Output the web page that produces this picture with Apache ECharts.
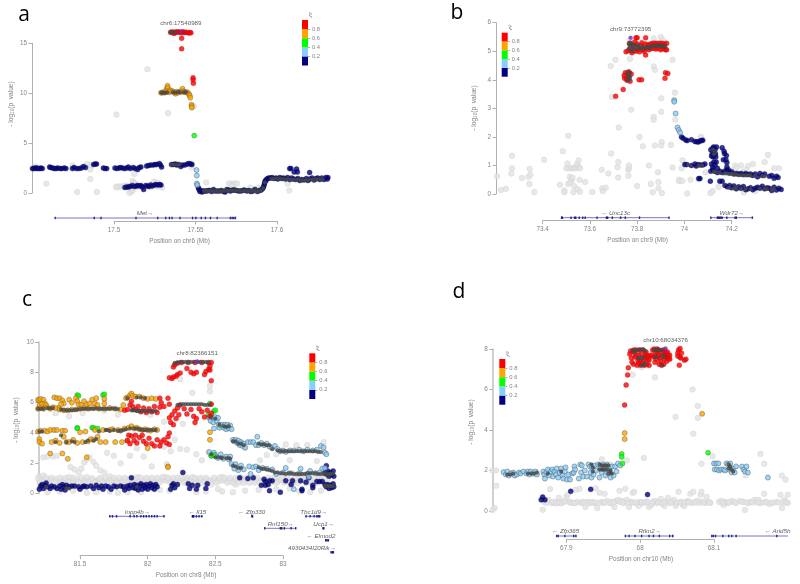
<!DOCTYPE html>
<html><head><meta charset="utf-8">
<style>html,body{margin:0;padding:0;background:#fff}#c{width:800px;height:584px;filter:blur(.5px)}</style>
<script src="https://cdn.jsdelivr.net/npm/echarts@6/dist/echarts.min.js"></script>
</head><body><div id="c"></div>
<script>
// ---------- panel a values ----------
const aGray=[[17.5205,12.4],[17.5015,7.85],[17.5332,8],[17.549,8.7],[17.4585,.95],[17.4775,.1],[17.4855,1.4],[17.4855,2.35],[17.4855,2.8],[17.4745,2.75],[17.452,2.65],[17.4895,.1],[17.5015,.65],[17.503,.65],[17.5045,.65],[17.506,.65],[17.507,.75],[17.5085,.7],[17.5095,0],[17.5108,.15],[17.5115,.3],[17.5115,1.1],[17.5115,1.2],[17.5125,1],[17.5125,1.9],[17.5135,.9],[17.514,.6],[17.5225,.6],[17.5245,1.15],[17.5225,.85],[17.5265,.65],[17.528,.7],[17.5295,.55],[17.5265,1.05],[17.5565,1.05],[17.5705,.95],[17.572,.95],[17.573,.8],[17.574,.95],[17.5755,.95],[17.5725,.7],[17.5885,.55],[17.5835,.55],[17.586,.4],[17.6065,.95],[17.6075,.25],[17.5512,.75],[17.5475,2.55],[17.5388,2.9],[17.5475,2.95],[17.5015,.55],[17.5125,.7],[17.5105,.5],[17.4835,2.9]];
const aNavy=[[17.45,2.45],[17.4508,2.45],[17.4515,2.5],[17.4522,2.45],[17.4528,2.5],[17.4535,2.45],[17.4545,2.45],[17.4552,2.5],[17.456,2.45],[17.4605,2.6],[17.4612,2.55],[17.4625,2.5],[17.4635,2.45],[17.4645,2.45],[17.4655,2.5],[17.467,2.45],[17.468,2.45],[17.4695,2.5],[17.4705,2.45],[17.4745,2.45],[17.4755,2.55],[17.477,2.45],[17.4785,2.45],[17.48,2.5],[17.4812,2.65],[17.4825,2.55],[17.4875,2.85],[17.4884,2.9],[17.4893,2.9],[17.4935,2.5],[17.4945,2.45],[17.4955,2.45],[17.5006,2.5],[17.5018,2.45],[17.503,2.5],[17.504,2.55],[17.5052,2.5],[17.5065,2.45],[17.5078,2.5],[17.5088,2.6],[17.51,2.45],[17.5118,2.55],[17.513,2.45],[17.5145,2.35],[17.5155,2.55],[17.5165,2.6],[17.52,2.7],[17.5212,2.75],[17.5225,2.8],[17.524,2.8],[17.5252,2.85],[17.5261,2.85],[17.5278,2.95],[17.5285,2.8],[17.5292,2.6],[17.5353,2.85],[17.5365,2.85],[17.5375,2.9],[17.5385,2.8],[17.5398,2.85],[17.541,2.65],[17.542,2.8],[17.5435,2.8],[17.545,2.9],[17.546,2.95],[17.547,2.9],[17.5478,2.85],[17.5067,.55],[17.5078,.6],[17.5088,.6],[17.5098,.65],[17.5112,.75],[17.5125,.65],[17.5138,.7],[17.5145,.75],[17.5158,.7],[17.5165,.75],[17.5175,.6],[17.5182,.35],[17.5195,.75],[17.5205,.7],[17.5215,.65],[17.5225,.8],[17.5235,.7],[17.5248,.8],[17.5258,.85],[17.5268,.8],[17.528,.85],[17.5288,.8],[17.5518,.5],[17.5522,.35],[17.5527,.15],[17.5533,.25],[17.554,.1],[17.5548,.2],[17.5558,.2],[17.5568,.2],[17.5578,.25],[17.5588,.25],[17.56,.15],[17.561,.35],[17.5622,.2],[17.5635,.2],[17.5648,.2],[17.566,.25],[17.5672,.15],[17.5682,.1],[17.5692,.35],[17.5704,.3],[17.5715,.2],[17.5728,.3],[17.574,.3],[17.5752,.25],[17.5765,.2],[17.5778,.2],[17.579,.25],[17.58,.3],[17.5815,.2],[17.5828,.25],[17.584,.15],[17.5852,.2],[17.5865,.35],[17.588,.15],[17.5892,.25],[17.5903,.3],[17.5912,.45],[17.5917,.6],[17.5921,.8],[17.5924,1],[17.5927,1.15],[17.593,1.25],[17.5935,1.35],[17.5942,1.45],[17.595,1.5],[17.596,1.5],[17.597,1.55],[17.5982,1.45],[17.5995,1.5],[17.6005,1.4],[17.6018,1.55],[17.603,1.45],[17.604,1.5],[17.6052,1.4],[17.6065,1.55],[17.6078,1.35],[17.609,1.5],[17.6102,1.4],[17.6115,1.35],[17.6128,1.45],[17.614,1.25],[17.6152,1.35],[17.6165,1.3],[17.618,1.45],[17.619,1.25],[17.6202,1.4],[17.6215,1.5],[17.6228,1.3],[17.624,1.45],[17.625,1.5],[17.6262,1.35],[17.6275,1.5],[17.6288,1.35],[17.63,1.55],[17.6308,1.4],[17.6312,1.55],[17.6078,2.45],[17.6085,2.45],[17.6105,2.1],[17.612,2.4],[17.6125,2.1],[17.62,2.05]];
const aBlue=[[17.5506,2.3],[17.5508,1.75],[17.5508,.95],[17.5511,.8]];
const aGreen=[[17.5492,5.75]];
const aOrange=[[17.5288,10.05],[17.5295,10.05],[17.53,10.1],[17.5308,10.05],[17.5315,10.1],[17.532,10.3],[17.5325,10.5],[17.5328,10.75],[17.533,10.55],[17.5336,10.25],[17.534,10.1],[17.5345,10.3],[17.535,10.2],[17.5358,10.2],[17.5365,10.15],[17.537,10.05],[17.5378,9.95],[17.5385,10.15],[17.5392,10.05],[17.54,10.15],[17.5408,10.1],[17.5415,10.2],[17.542,10.45],[17.5426,10.2],[17.5432,10.1],[17.544,10.1],[17.5448,10.1],[17.5455,10],[17.546,9.9],[17.5465,9.75],[17.5468,9.55],[17.5475,8.85],[17.5477,8.7],[17.5477,8.55]];
const aRed=[[17.5347,16.1],[17.5355,16.12],[17.5362,16.1],[17.5368,15.98],[17.5375,16.12],[17.5382,16.1],[17.539,16.15],[17.5398,16.1],[17.5404,16.12],[17.5415,16.05],[17.5422,16.15],[17.543,16.1],[17.5438,16.08],[17.5445,16.1],[17.5458,16.02],[17.5465,16.08],[17.5472,16.05],[17.5415,15.5],[17.5415,14.45],[17.5485,11.55],[17.5485,11.35],[17.5487,11]];
const aDense=[[17.5347,16.1],[17.5358,16.1],[17.5372,16.1],[17.529,10.05],[17.5302,10.05],[17.5314,10.05],[17.5326,10.05],[17.5362,10.1],[17.5376,10.05],[17.5392,10.1],[17.5404,10.1],[17.5428,10.1],[17.5442,10.1],[17.5356,2.85],[17.537,2.85],[17.5388,2.85],[17.5402,2.85],[17.5552,.2],[17.5564,.2],[17.5578,.2],[17.5592,.2],[17.5606,.2],[17.562,.2],[17.5634,.2],[17.5648,.2],[17.5662,.2],[17.5676,.2],[17.569,.25],[17.5704,.25],[17.5718,.25],[17.5732,.25],[17.5746,.25],[17.576,.25],[17.5774,.2],[17.5788,.2],[17.5802,.25],[17.5816,.2],[17.583,.2],[17.5844,.2],[17.5858,.2],[17.5872,.2],[17.5886,.2],[17.59,.25],[17.5914,.5],[17.5926,1.05],[17.5965,1.45],[17.598,1.45],[17.5995,1.45],[17.601,1.45],[17.6025,1.45],[17.604,1.4],[17.6055,1.4],[17.607,1.4],[17.6085,1.35],[17.61,1.35],[17.6115,1.35],[17.613,1.35],[17.6145,1.3],[17.616,1.3],[17.6175,1.3],[17.619,1.3],[17.6205,1.35],[17.622,1.35],[17.6235,1.4],[17.625,1.4],[17.6265,1.4],[17.628,1.4]];
const aLead=[[17.540989,16.15]];
// ---------- panel b values ----------
const bGray=[[73.207,.62],[73.223,.14],[73.244,.18],[73.27,1.34],[73.27,.9],[73.267,.72],[73.312,.56],[73.34,.6],[73.348,.68],[73.345,.88],[73.344,.35],[73.365,.07],[73.406,1.2],[73.473,.32],[73.485,1.5],[73.492,.12],[73.492,.06],[73.5,.9],[73.505,1.07],[73.508,2.04],[73.508,.35],[73.512,.9],[73.515,.6],[73.517,.42],[73.52,.9],[73.524,.5],[73.526,.58],[73.53,.9],[73.53,.06],[73.533,.28],[73.538,.94],[73.54,.9],[73.546,1.05],[73.548,.17],[73.552,1.18],[73.552,.95],[73.556,.5],[73.558,.9],[73.558,.08],[73.58,.42],[73.61,.07],[73.65,.85],[73.652,.2],[73.655,.1],[73.667,.22],[73.678,.72],[73.69,1.42],[73.688,4.48],[73.694,3.4],[73.708,4.7],[73.717,.94],[73.72,1.12],[73.72,.58],[73.722,2.33],[73.763,.64],[73.763,.85],[73.765,.9],[73.765,1.0],[73.77,5.4],[73.77,4.73],[73.775,2.95],[73.8,.28],[73.81,2.0],[73.824,1.67],[73.85,1.0],[73.858,.35],[73.866,.06],[73.87,4.47],[73.87,5.45],[73.87,2.7],[73.87,2.6],[73.875,4.35],[73.875,1.7],[73.89,.2],[73.89,.42],[73.888,.76],[73.9,5.5],[73.902,3.35],[73.904,1.82],[73.902,1.7],[73.905,.03],[73.902,2.88],[73.908,5.4],[73.95,4.7],[73.943,1.72],[73.95,.93],[73.96,3.55],[73.962,2.6],[73.978,.5],[73.978,.45],[73.992,.46],[73.992,1.18],[73.988,.9],[74.012,.02],[74.026,.5],[74.06,.52],[74.07,1.95],[74.07,2],[74.09,.76],[74.11,.03],[74.12,.1],[74.145,.25],[74.215,1],[74.24,1],[74.252,.06],[74.25,.78],[74.27,.98],[74.29,1.05],[74.3,.1],[74.34,1.12],[74.38,.9],[74.354,1.37],[74.4,.9],[74.2,.82],[74.22,.9],[74.262,.85]];
const bNavy=[[73.988,2],[73.995,1.95],[74.006,1.89],[74.012,1.87],[74.03,1.9],[74.045,1.84],[74.052,1.83],[74.059,1.82],[74.066,1.86],[74.073,1.87],[74.078,1.88],[74.002,1.03],[74.01,1.03],[74.03,1],[74.045,1.05],[74.05,.98],[74.058,1.03],[74.068,1.02],[74.078,1.02],[74.087,1.05],[74.061,.54],[74.066,.54],[74.112,1.55],[74.12,1.6],[74.124,1.65],[74.13,1.55],[74.136,1.65],[74.118,1.42],[74.125,1.5],[74.132,1.4],[74.115,1.33],[74.122,1.3],[74.133,1.3],[74.16,1.62],[74.168,1.5],[74.17,1.42],[74.178,1.35],[74.176,1.2],[74.18,1.1],[74.115,1.05],[74.125,1.12],[74.135,1.12],[74.13,1.02],[74.12,.95],[74.165,1.2],[74.14,.9],[74.18,.95],[74.186,.85],[74.11,.45],[74.15,.45],[74.16,.45],[74.112,.8],[74.12,.85],[74.13,.8],[74.14,.75],[74.15,.8],[74.16,.75],[74.17,.8],[74.18,.85],[74.19,.75],[74.2,.78],[74.21,.7],[74.22,.72],[74.23,.7],[74.24,.72],[74.25,.68],[74.26,.72],[74.27,.68],[74.28,.7],[74.29,.65],[74.3,.7],[74.31,.6],[74.32,.72],[74.33,.65],[74.34,.7],[74.36,.62],[74.37,.65],[74.38,.55],[74.39,.62],[74.397,.58],[74.172,.3],[74.182,.25],[74.192,.3],[74.2,.22],[74.21,.28],[74.22,.18],[74.23,.25],[74.24,.2],[74.25,.26],[74.26,.15],[74.27,.18],[74.28,.22],[74.29,.15],[74.3,.2],[74.31,.24],[74.32,.2],[74.33,.27],[74.34,.18],[74.35,.22],[74.36,.2],[74.37,.12],[74.38,.24],[74.39,.14],[74.4,.2],[74.41,.16]];
const bBlue=[[73.957,3.29],[73.957,3.23],[73.963,2.82],[73.971,2.33],[73.976,2.24],[73.982,2.15]];
const bRed=[[73.709,3.42],[73.741,3.66],[73.753,4.98],[73.808,4],[73.819,4],[73.836,4.87],[73.836,5.47],[73.795,5.47],[73.8,5.47],[73.918,4.05],[73.92,4.25],[73.93,4.22],[73.745,4.15],[73.75,4.25],[73.755,4.05],[73.76,4.25],[73.765,4.1],[73.77,3.95],[73.775,4.2],[73.747,4.05],[73.765,4.28],[73.757,3.98],[73.762,5.02],[73.768,5.28],[73.772,5.1],[73.778,4.95],[73.782,5.2],[73.786,5.02],[73.79,5.32],[73.795,5],[73.8,5.25],[73.805,5.05],[73.81,4.98],[73.815,5.2],[73.82,5.3],[73.825,5.05],[73.83,5],[73.835,5.25],[73.84,5.1],[73.845,5.22],[73.85,5.05],[73.855,5.25],[73.86,5.1],[73.865,5.28],[73.87,5.1],[73.875,5.28],[73.88,5.08],[73.885,5.28],[73.89,5.1],[73.895,5.28],[73.9,5.05],[73.905,5.28],[73.91,5.1],[73.915,5.25],[73.92,5.05],[73.925,5.28],[73.925,5.05]];
const bDense=[[73.765,5.1],[73.77,5.2],[73.775,5],[73.78,5.25],[73.765,5.25],[73.772,5.3],[73.78,5.1],[73.785,5.2],[73.79,5.1],[73.795,5.2],[73.8,5.1],[73.805,5.2],[73.81,5.12],[73.815,5.08],[73.82,5.12],[73.825,5.15],[73.83,5.12],[73.84,5.15],[73.845,5.12],[73.85,5.15],[73.855,5.12],[73.86,5.18],[73.87,5.2],[73.875,5.18],[73.88,5.2],[73.885,5.18],[73.89,5.2],[73.895,5.18],[73.9,5.2],[73.905,5.18],[73.91,5.2],[73.915,5.15],[73.92,5.18],[73.76,4.25],[73.765,4.2],[73.77,4.25],[73.76,4.1],[73.77,4.1],[73.76,3.98],[73.768,4.02],[74.015,1.03],[74.06,1],[74.075,1],[74.12,1.55],[74.125,1.4],[74.13,1.5],[74.125,.78],[74.135,.78],[74.15,.75],[74.17,.72],[74.18,.72],[74.19,.7],[74.2,.7],[74.21,.7],[74.22,.68],[74.23,.66],[74.24,.66],[74.25,.66],[74.26,.65],[74.27,.66],[74.28,.65],[74.3,.65],[74.33,.63],[74.34,.62],[74.19,.22],[74.21,.2],[74.22,.22],[74.24,.2],[74.26,.18],[74.28,.18],[74.32,.2],[74.34,.2],[74.35,.18],[74.37,.16],[74.38,.16]];
const bLead=[[73.772395,5.47]];
// ---------- panel c values ----------
const cGray=[[81.2,1.15],[81.22,.95],[81.24,.85],[81.26,.95],[81.28,.85],[81.3,.9],[81.32,.95],[81.34,.8],[81.36,.9],[81.38,.85],[81.4,.95],[81.42,.8],[81.44,.95],[81.46,.85],[81.48,.95],[81.5,.8],[81.52,.9],[81.54,.85],[81.56,.95],[81.58,.85],[81.6,.9],[81.62,.8],[81.64,.95],[81.66,.85],[81.68,.9],[81.7,.85],[81.72,.95],[81.74,.85],[81.76,.9],[81.78,.8],[81.8,.9],[81.82,.85],[81.84,.95],[81.86,.85],[81.88,.9],[81.9,.95],[81.92,.85],[81.94,.9],[81.96,.8],[81.98,.9],[82,.85],[82.02,.95],[82.04,.85],[82.06,.9],[82.08,.85],[82.1,.95],[82.12,.9],[82.14,.85],[82.16,.95],[82.18,.85],[82.2,.9],[82.22,.8],[82.24,.9],[82.26,.85],[82.28,.95],[82.3,.85],[82.32,.9],[82.34,.8],[82.36,.95],[82.38,.85],[82.4,.9],[82.42,.85],[82.44,.95],[82.46,.85],[82.48,.9],[82.5,.8],[82.52,.95],[82.54,.85],[82.56,.9],[82.58,.85],[82.6,.95],[82.62,.8],[82.64,.9],[82.66,.85],[82.68,.9],[82.7,.95],[82.72,.85],[82.74,.9],[82.76,.8],[82.78,.95],[82.8,.85],[82.82,.9],[82.84,.8],[82.86,.95],[82.88,.85],[82.9,.9],[82.92,.85],[82.94,.95],[82.96,.8],[82.98,.9],[83,.85],[83.02,.95],[83.04,.85],[83.06,.9],[83.08,.8],[83.1,.95],[83.12,.85],[83.14,.9],[83.16,.85],[83.18,.95],[83.2,.8],[83.22,.9],[83.24,.85],[83.26,.95],[81.2,.75],[81.23,1.2],[81.27,.7],[81.33,.65],[81.42,1.1],[81.47,.65],[81.55,1.1],[81.63,.65],[81.72,1.15],[81.8,.7],[81.93,1.1],[82.05,.7],[82.13,1.1],[82.22,1.05],[82.33,1.1],[82.47,.6],[82.55,1.1],[82.65,.6],[82.77,1.1],[82.85,.65],[82.97,1.1],[83.07,.6],[83.15,1.15],[83.22,.65],[81.2,.35],[81.26,.1],[81.35,.15],[81.45,.2],[81.55,.05],[81.62,.1],[81.72,.15],[81.78,.05],[81.85,.1],[81.95,.1],[82.09,.25],[82.16,.2],[82.36,.1],[82.43,.15],[82.52,.3],[82.55,.15],[82.63,.1],[82.72,.2],[82.82,.25],[82.95,.3],[83.05,.35],[83.12,.15],[83.2,.1],[83.28,.2],[81.3,2.45],[81.23,2.4],[81.26,2.45],[81.33,2.5],[81.43,1.75],[81.46,1.6],[81.49,1.4],[81.51,1.65],[81.53,2.05],[81.55,2.25],[81.57,2.4],[81.6,2.1],[81.62,1.85],[81.65,1.55],[81.68,1.4],[81.7,2.7],[81.75,2.5],[81.8,2],[81.87,2.5],[81.97,2.45],[82.03,1.8],[82.09,3.2],[82.14,1.95],[82.17,2.8],[82.24,2.95],[82.29,2.9],[82.36,2.6],[82.4,2.2],[82.45,2.7],[82.24,7.55],[82.33,6.65],[82.46,6.75],[82.46,7.1],[82.12,4.75],[82.2,3.55],[82.26,4.6],[82.72,3],[82.88,2.55],[83.02,3.25],[83.1,3.2],[83.3,3.4],[83.18,3.2],[82.83,2.2],[82.95,2.6],[83.07,1.35],[83.05,2.2],[83.25,2.15],[81.3,4.2],[81.32,5.3],[81.42,5.1],[81.52,5.3],[81.68,5.45],[81.78,5.2],[81.92,3],[82.02,5.2],[82.12,3.1]];
const cGrayBand=[[81.19,1],[81.21,.8],[81.25,1.05],[81.29,1.05],[81.31,.75],[81.35,1.05],[81.37,.75],[81.39,1.05],[81.41,.75],[81.45,1.05],[81.49,.75],[81.51,1.05],[81.53,.72],[81.57,.75],[81.59,1.02],[81.61,.75],[81.65,1.05],[81.67,.75],[81.69,1.05],[81.71,.72],[81.75,1.05],[81.77,.72],[81.79,1.05],[81.83,1.05],[81.85,.72],[81.87,1],[81.89,.72],[81.91,1.05],[81.95,1.05],[81.97,.72],[81.99,1.05],[82.01,.72],[82.03,1.05],[82.07,1.05],[82.09,.72],[82.11,1.1],[82.15,1.05],[82.17,.72],[82.19,1.05],[82.21,.72],[82.25,1.05],[82.27,.72],[82.29,1.05],[82.31,.75],[82.35,1.05],[82.37,.72],[82.39,1.05],[82.41,.72],[82.43,1.05],[82.45,.72],[82.49,1.05],[82.51,.72],[82.53,1.05],[82.57,1.05],[82.59,.72],[82.61,1.05],[82.63,.72],[82.65,1.05],[82.67,.72],[82.69,1.05],[82.71,.72],[82.73,1.05],[82.75,.72],[82.79,.72],[82.81,1.05],[82.83,.72],[82.87,.72],[82.89,1.05],[82.91,.72],[82.93,1.05],[82.95,.72],[82.99,1.05],[83.01,.72],[83.03,1.05],[83.05,.72],[83.09,1.05],[83.11,.72],[83.13,1.05],[83.17,.7],[83.19,1.05],[83.21,.72],[83.23,1.05],[83.25,.72],[83.27,1.05],[83.29,.9],[83.31,1],[83.33,.9]];
const cNavy=[[81.2,.3],[81.21,.5],[81.22,.6],[81.23,.35],[81.24,.55],[81.25,.7],[81.26,.45],[81.28,.35],[81.29,.5],[81.31,.45],[81.33,.35],[81.35,.5],[81.36,.3],[81.37,.6],[81.38,.45],[81.39,.25],[81.4,.55],[81.42,.45],[81.44,.5],[81.46,.5],[81.49,.45],[81.5,.3],[81.52,.45],[81.53,.5],[81.55,.45],[81.58,.5],[81.6,.35],[81.62,.55],[81.64,.4],[81.66,.5],[81.67,.3],[81.69,.5],[81.71,.45],[81.73,.3],[81.75,.5],[81.77,.45],[81.8,.5],[81.82,.45],[81.83,.25],[81.85,.5],[81.86,.35],[81.87,.55],[81.88,1.05],[81.89,.4],[81.9,.6],[81.91,.35],[81.92,.55],[81.93,.25],[81.94,.5],[81.95,.65],[81.96,.3],[81.97,.55],[81.98,.4],[81.99,.6],[82,.3],[82.01,.5],[82.02,.65],[82.03,.4],[82.04,.55],[82.05,.3],[82.06,.6],[82.07,.45],[82.17,.3],[82.18,.55],[82.19,.65],[82.2,.4],[82.22,.6],[82.26,1.4],[82.3,.65],[82.33,.55],[82.31,.35],[82.36,.3],[82.37,.55],[82.43,.35],[82.44,.65],[82.68,1.05],[82.74,1],[82.78,1.05],[82.84,.55],[82.86,.95],[82.87,.55],[82.87,.8],[82.9,.85],[82.89,.6],[82.9,.2],[82.92,.85],[82.98,.1],[83.02,.85],[83.06,.6],[83.07,.85],[83.13,.85],[83.14,.3],[83.14,.2],[83.17,.75],[83.19,1.05],[83.22,.4],[83.22,.55],[83.25,.8],[83.27,.8],[83.29,.8],[83.32,1.85],[83.31,1.45],[83.32,1.3],[83.33,1.5],[83.34,1.15],[83.35,1.4],[83.36,1.25],[83.37,1.5],[83.375,1.15],[83.31,.6],[83.32,.45],[83.33,.6],[83.34,.35],[83.35,.55],[83.36,.4],[83.37,.65],[83.375,.45]];
const cBlue=[[82.455,5],[82.465,4.8],[82.475,5.05],[82.485,4.7],[82.49,4.3],[82.5,5.05],[82.51,4.8],[82.52,5],[82.525,4.55],[82.53,4.35],[82.54,4.5],[82.55,4.55],[82.56,4.35],[82.57,4.55],[82.58,4.25],[82.59,4.55],[82.6,4.3],[82.61,4.5],[82.62,4.25],[82.63,3.55],[82.64,3.45],[82.65,3.55],[82.66,3.35],[82.67,3.5],[82.68,3.2],[82.69,3.4],[82.7,3.15],[82.71,3.3],[82.72,3.05],[82.74,3.4],[82.76,3.4],[82.78,3.4],[82.8,3.2],[82.81,3.75],[82.82,3.2],[82.84,3.35],[82.86,3.2],[82.88,3.3],[82.9,3.1],[82.92,3],[82.94,3.15],[82.96,2.95],[82.98,2.8],[83,2.85],[83.02,2.75],[83.05,2.85],[83.08,2.85],[83.12,2.9],[83.15,2.8],[83.18,2.9],[83.22,2.85],[83.25,2.9],[83.28,3.15],[83.3,3.05],[83.31,2.7],[83.32,2.6],[82.455,2.75],[82.47,2.5],[82.49,2.7],[82.5,2.55],[82.52,2.35],[82.54,2.6],[82.56,2.3],[82.58,2.45],[82.6,2.25],[82.61,2.45],[82.62,1.95],[82.64,1.65],[82.65,1.95],[82.67,1.55],[82.69,1.85],[82.71,1.6],[82.75,1.8],[82.76,1.3],[82.78,1.75],[82.8,1.8],[82.82,1.55],[82.85,1.7],[82.88,1.65],[82.92,1.6],[82.95,1.3],[83,1.4],[83.02,1.7],[83.05,1.35],[83.08,.3],[83.12,1.35],[83.13,1.65],[83.2,1.5],[83.18,1.3],[83.24,1.35],[83.27,1.4],[83.29,1.65],[83.31,1.7],[83.19,1.1]];
const cGreen=[[81.48,6.5],[81.49,6.45],[81.67,6.5],[81.68,6.55],[81.48,4.35],[81.48,4.3],[81.59,4.35],[81.6,4.35],[81.63,4.3],[82.46,5.95],[82.45,5.2],[82.49,5.45],[82.5,5.5],[82.47,2.5],[82.49,2.55]];
const cOrange=[[81.19,6.2],[81.2,6.15],[81.21,6.25],[81.23,6.2],[81.24,5.95],[81.2,5.85],[81.22,5.9],[81.25,5.85],[81.31,6.35],[81.33,6.3],[81.35,6.3],[81.37,6.15],[81.38,5.95],[81.36,5.9],[81.34,5.65],[81.42,6.2],[81.44,6],[81.47,6.3],[81.48,6.1],[81.49,5.9],[81.51,5.85],[81.53,6.1],[81.55,5.9],[81.57,5.95],[81.59,6.2],[81.61,5.95],[81.63,5.85],[81.62,6.3],[81.68,6.25],[81.68,5.95],[81.19,5.6],[81.21,5.65],[81.23,5.6],[81.26,5.7],[81.28,5.6],[81.3,5.7],[81.32,5.65],[81.35,5.55],[81.38,5.5],[81.41,5.5],[81.44,5.55],[81.47,5.55],[81.5,5.6],[81.53,5.65],[81.56,5.6],[81.6,5.65],[81.64,5.6],[81.68,5.6],[81.72,5.65],[81.76,5.6],[81.8,5.55],[81.82,5.85],[81.84,6.3],[81.85,6.35],[81.87,6.5],[81.88,6.6],[81.89,6.45],[81.91,6.4],[81.94,6.4],[81.97,6.3],[82,6.25],[82.03,6.3],[82.06,6.25],[81.19,4.1],[81.2,3.6],[81.21,4.15],[81.2,3.4],[81.22,3.3],[81.24,4.15],[81.26,4.1],[81.28,4.2],[81.29,3.4],[81.31,4.2],[81.33,4.2],[81.32,3.5],[81.35,3.35],[81.37,4.15],[81.38,3.75],[81.39,4.15],[81.4,3.4],[81.42,3.4],[81.45,3.55],[81.48,3.35],[81.5,4.05],[81.52,3.4],[81.54,4.1],[81.56,3.45],[81.58,3.6],[81.6,3.55],[81.61,4.2],[81.63,3.75],[81.65,3.4],[81.67,4.2],[81.69,3.4],[81.72,4.2],[81.74,4.25],[81.76,3.4],[81.78,4.2],[81.8,4.15],[81.81,3.4],[81.83,4.3],[81.85,3.5],[81.86,4.35],[81.88,4.45],[81.9,4.3],[81.92,4.35],[81.94,4.25],[81.96,4.2],[81.98,4.25],[82,4.2],[82.02,4.15],[82.05,4.25],[82.07,4.2],[81.28,2.65],[81.37,2.65],[81.41,2.3],[81.55,2.4],[82,3],[82.15,1.8],[82.15,1.75],[82.46,4.05],[82.46,3.55]];
const cRed=[[81.83,5.5],[81.85,5.55],[81.87,5.85],[81.88,6.1],[81.89,5.75],[81.91,5.55],[81.93,5.75],[81.95,5.4],[81.97,5.65],[81.99,5.35],[82.01,5.6],[82.03,5.4],[82.05,5.75],[82.07,5.35],[82.09,5.7],[82.1,6],[82.09,6.3],[82.15,6.3],[82.12,5.75],[82.16,5.9],[81.85,3.5],[81.86,3.85],[81.87,3.3],[81.88,3.8],[81.9,3.5],[81.91,3.85],[81.92,3.35],[81.94,3.7],[81.96,3.85],[81.97,3.45],[81.99,3.3],[82.01,3.65],[82.03,3.3],[82.05,3.15],[82.07,3.55],[82.09,3.15],[82.1,3.4],[82.12,3.55],[82.14,3.35],[82.15,3.75],[82.16,4],[82.16,3.25],[82.16,7.65],[82.18,7.6],[82.19,7.7],[82.21,7.75],[82.22,7.85],[82.24,7.95],[82.29,8.25],[82.32,8],[82.34,7.9],[82.36,8],[82.42,7.85],[82.43,8.05],[82.45,8.2],[82.46,8.4],[82.46,8.15],[82.47,7.45],[82.19,8.35],[82.2,8.5],[82.22,8.6],[82.25,8.65],[82.3,8.65],[82.35,8.65],[82.4,8.65],[82.45,8.65],[82.47,8.65],[82.16,5],[82.17,4.7],[82.18,5.2],[82.19,4.55],[82.2,5.45],[82.21,4.95],[82.22,5.65],[82.23,5.2],[82.24,5.85],[82.29,5.25],[82.34,5.1],[82.36,4.95],[82.35,4.7],[82.42,5.05],[82.46,5.1],[82.4,5.4],[82.27,5.6],[82.32,5.55],[82.38,5.6],[82.44,5.5],[82.47,5.9],[82.47,5.3]];
const cDense=[[81.19,5.6],[81.21,5.6],[81.23,5.6],[81.26,5.65],[81.36,5.55],[81.4,5.5],[81.44,5.5],[81.48,5.55],[81.52,5.6],[81.56,5.6],[81.6,5.6],[81.64,5.6],[81.68,5.6],[81.72,5.6],[81.76,5.6],[81.88,5.5],[81.9,5.5],[81.92,5.45],[81.94,5.45],[81.96,5.45],[82,5.45],[82.04,5.45],[81.85,6.3],[81.92,6.35],[81.95,6.35],[81.98,6.3],[81.2,4.1],[81.22,4.1],[81.32,3.4],[81.36,3.85],[81.4,3.4],[81.44,3.45],[81.46,3.4],[81.54,3.4],[81.56,3.5],[81.6,3.5],[81.62,3.6],[81.64,4.1],[81.69,4.2],[81.72,4.15],[81.8,4.15],[81.84,4.25],[81.9,4.3],[81.94,4.25],[81.96,4.2],[81.98,4.2],[82.02,4.2],[82.06,4.2],[82.2,8.62],[82.22,8.65],[82.24,8.68],[82.26,8.68],[82.28,8.68],[82.3,8.68],[82.32,8.68],[82.34,8.68],[82.37,8.68],[82.39,8.68],[82.41,8.68],[82.22,5.85],[82.24,5.88],[82.26,5.9],[82.28,5.9],[82.3,5.9],[82.32,5.9],[82.34,5.9],[82.36,5.9],[82.38,5.9],[82.4,5.9],[82.42,5.85],[82.44,5.85],[82.46,5.85],[82.47,5.05],[82.5,4.95],[82.53,4.55],[82.56,4.45],[82.58,4.4],[82.6,4.45],[82.63,3.45],[82.65,3.45],[82.67,3.3],[82.69,3.3],[82.71,3.2],[82.82,3.3],[82.84,3.25],[82.86,3.25],[82.88,3.2],[82.9,3.2],[82.92,2.95],[82.98,2.8],[83,2.8],[83.04,2.8],[83.06,2.8],[83.1,2.8],[83.14,2.8],[83.18,2.8],[83.2,2.8],[83.22,2.8],[83.24,2.8],[83.26,2.75],[83.28,2.75],[82.47,2.6],[82.5,2.4],[82.52,2.4],[82.55,2.35],[82.58,2.35],[82.61,2.3],[82.63,1.85],[82.65,1.8],[82.67,1.7],[82.69,1.7],[82.82,1.75],[82.84,1.65],[82.86,1.65],[82.9,1.55],[82.94,1.4],[82.98,1.35],[83.02,1.3],[83.06,1.35],[83.1,1.3],[83.16,1.3],[83.2,1.35],[83.24,1.35],[83.28,1.3],[83.31,1.3],[83.33,1.25],[83.35,1.3],[83.37,1.35],[83.31,.5],[83.33,.5],[83.35,.5],[83.37,.5],[81.25,.45],[81.4,.35],[81.42,.35],[81.92,.45]];
const cDenseMore=[[81.28,5.62],[81.3,5.65],[81.38,5.52],[81.42,5.5],[81.46,5.52],[81.5,5.58],[81.54,5.6],[81.58,5.6],[81.62,5.62],[81.66,5.6],[81.7,5.6],[81.74,5.62],[81.78,5.58],[81.89,5.5],[81.93,5.45],[81.98,5.45],[82.02,5.45],[82.06,5.45],[81.7,4.2],[81.75,4.2],[81.78,4.15],[81.82,4.2],[81.87,4.3],[81.92,4.3],[82,4.2],[82.04,4.2],[82.43,8.68],[82.45,8.65],[82.96,2.85],[83.02,2.8],[83.08,2.8],[83.12,2.8],[83.16,2.8],[82.96,1.4],[83,1.35],[83.04,1.35],[83.08,1.3],[83.12,1.3],[83.14,1.3],[83.18,1.35],[83.22,1.35],[83.26,1.3],[83.3,1.3],[82.54,2.4],[82.6,2.35],[82.88,1.6],[82.92,1.5],[83.32,.55],[83.34,.5],[83.36,.5],[83.32,1.35],[83.34,1.3],[83.36,1.3]];
const cLead=[[82.366151,8.72]];
// ---------- panel d values ----------
const dGray=[[67.8,2],[67.805,2],[67.803,.15],[67.8,.05],[67.805,1.25],[67.86,1.9],[67.861,1.85],[67.868,.06],[67.87,.45],[67.873,.4],[67.876,.55],[67.878,1.08],[67.88,.4],[67.884,.4],[67.888,.45],[67.89,.65],[67.892,.4],[67.896,.45],[67.9,.7],[67.902,.8],[67.904,.45],[67.908,.4],[67.912,.4],[67.913,1.05],[67.915,.45],[67.918,1.1],[67.92,.4],[67.922,.45],[67.926,.2],[67.928,.45],[67.932,.4],[67.935,.45],[67.938,.4],[67.94,1.12],[67.942,.15],[67.945,.9],[67.948,.45],[67.95,.4],[67.952,.85],[67.955,.5],[67.96,.4],[67.962,.45],[67.965,.2],[67.968,.5],[67.97,.55],[67.972,1.0],[67.975,.5],[67.978,.4],[67.98,1.1],[67.982,.55],[67.985,.2],[67.988,.45],[67.99,.9],[67.992,.95],[67.995,.4],[67.998,.25],[68,.45],[68.003,.4],[68.005,2.62],[68.008,.45],[68.012,.2],[68.015,.3],[68.018,.45],[68.02,.5],[68.022,.4],[68.026,.45],[68.028,.6],[68.03,.35],[68.033,.25],[68.035,.5],[68.038,.65],[68.04,.4],[68.043,.45],[68.046,.55],[68.048,.25],[68.05,.4],[68.052,.95],[68.055,.45],[68.058,.3],[68.06,.25],[68.062,.45],[68.065,.5],[68.068,.85],[68.07,.4],[68.072,.95],[68.075,.45],[68.078,.5],[68.08,.4],[68.082,.8],[68.083,.95],[68.084,.45],[68.088,.4],[68.09,.7],[68.092,.45],[68.095,.4],[68.098,2.7],[68.107,.45],[68.11,.5],[68.113,.3],[68.115,.45],[68.118,.4],[68.122,.45],[68.125,.5],[68.13,.4],[68.135,.5],[68.14,.45],[68.142,.05],[68.147,.4],[68.15,.45],[68.155,.55],[68.158,.45],[68.16,.55],[68.162,.4],[68.165,.4],[68.168,.85],[68.17,.45],[68.175,.35],[68.18,.4],[68.185,.45],[68.19,.8],[68.192,.15],[68.195,.55],[68.197,.45],[68.2,.8],[68.2,.4],[68.192,1.75],[68.197,1.55],[68.163,2.82],[68.168,2.33],[68.143,1.75],[68.025,7.3],[68.012,7.18],[68.002,7.1],[67.99,6.73],[68.02,6.6],[68.071,6],[68.078,5.2],[68.078,4.6],[68.048,4.65],[68.072,3.82],[68.083,2.33],[67.948,2.55],[67.96,2.3],[67.982,2.5],[67.945,2.25]];
const dGrayBand=[[67.882,.45],[67.886,.38],[67.89,.42],[67.894,.4],[67.898,.48],[67.906,.42],[67.91,.4],[67.924,.4],[67.93,.42],[67.934,.42],[67.94,.42],[67.944,.4],[67.952,.42],[67.958,.4],[67.964,.42],[67.972,.45],[67.976,.42],[67.984,.42],[67.99,.42],[67.994,.42],[68.002,.42],[68.006,.42],[68.01,.45],[68.016,.42],[68.024,.42],[68.032,.42],[68.042,.42],[68.054,.42],[68.06,.42],[68.066,.42],[68.074,.42],[68.086,.42],[68.094,.42],[68.112,.42],[68.12,.42],[68.128,.42],[68.138,.45],[68.144,.42],[68.152,.42],[68.16,.42],[68.172,.42],[68.178,.42],[68.188,.42],[68.194,.42],[68.198,.42]];
const dNavy=[[67.868,.69],[67.866,.55],[67.871,.55],[67.906,.97],[67.933,1.07],[68.01,.81]];
const dBlue=[[67.815,1.92],[67.818,1.8],[67.82,1.95],[67.822,1.75],[67.825,1.85],[67.828,1.9],[67.83,1.75],[67.833,1.8],[67.836,1.9],[67.838,1.85],[67.842,1.95],[67.846,1.85],[67.848,1.95],[67.85,1.8],[67.852,1.95],[67.855,1.85],[67.858,1.95],[67.86,1.8],[67.869,1.95],[67.87,1.8],[67.871,1.6],[67.873,1.9],[67.875,2.05],[67.877,1.75],[67.879,1.95],[67.881,2.05],[67.882,1.7],[67.884,1.95],[67.886,1.8],[67.887,2.1],[67.889,1.65],[67.891,1.9],[67.893,2.1],[67.895,1.75],[67.896,1.6],[67.898,1.95],[67.899,2.15],[67.901,1.55],[67.903,1.8],[67.905,1.55],[67.908,1.85],[67.91,1.9],[67.911,2.2],[67.912,2.05],[67.917,1.6],[67.919,2.3],[67.92,1.9],[67.921,2.25],[67.923,1.7],[67.925,2],[67.928,1.7],[67.93,2.3],[67.932,2.2],[67.933,1.9],[67.934,1.65],[67.935,2.15],[67.937,1.8],[67.938,2.25],[67.94,2],[67.943,2.3],[67.945,1.65],[67.946,2.1],[67.948,1.9],[67.95,2.3],[67.952,2.05],[67.953,1.75],[67.955,2.3],[67.957,1.85],[67.958,2.1],[67.96,1.65],[67.962,2.2],[67.964,1.75],[67.966,2.2],[67.968,1.95],[67.97,2.35],[67.973,2.25],[68.1,2.35],[68.103,2.35],[68.106,2.35],[68.101,2.05],[68.104,2.05],[68.107,2],[68.11,2.05],[68.113,2.05],[68.115,2],[68.117,2.35],[68.119,2.3],[68.12,2.05],[68.122,2.35],[68.124,1.9],[68.126,2.1],[68.128,1.9],[68.13,2.2],[68.138,2.2],[68.14,2.05],[68.142,1.95],[68.144,2.2],[68.146,1.9],[68.173,1.65]];
const dGreen=[[67.975,2.82],[67.975,2.67],[67.976,2.34],[68.092,2.88]];
const dOrange=[[67.979,3.85],[67.979,3.55],[68.084,4.8]];
const dRed=[[67.979,5.23],[67.981,6.22],[67.983,6.72],[67.984,7.08],[67.986,7.75],[67.987,7.9],[67.988,7.55],[67.99,7.85],[67.991,7.25],[67.992,7.95],[67.993,7.6],[67.995,7.95],[67.996,7.2],[67.997,7.45],[67.998,7.7],[67.999,7.95],[68,7.4],[68.001,7.2],[68.002,7.75],[68.004,7.95],[68.005,7.45],[68.006,7.2],[68.007,7.65],[68.008,7.85],[68.009,7.25],[68.01,7.6],[68.011,7.5],[68.012,7.2],[68.013,7.65],[68.017,7.95],[68.018,7.6],[68.019,8],[68.02,7.65],[68.021,7.85],[68.022,7.5],[68.023,8],[68.024,7.65],[68.025,7.95],[68.026,7.25],[68.027,7.55],[68.028,7.85],[68.029,7.2],[68.03,7.65],[68.031,7.95],[68.032,7.25],[68.033,7.5],[68.034,7.7],[68.035,7.8],[68.036,7.6],[68.037,7.85],[68.038,7.65],[68.039,7.55],[68.04,7.7],[68.051,7.8],[68.052,7.95],[68.053,7.2],[68.054,8.03],[68.054,7.6],[68.055,7.55],[68.056,7.8],[68.06,7.45],[68.062,7.5],[68.051,7.65],[67.989,7.35],[67.994,7.7],[67.998,7.3],[68.003,7.3],[68.006,7.55],[68.009,7.7],[68.012,7.45],[68.015,7.7],[68.02,7.35],[68.024,7.8],[68.028,7.4],[68.033,7.9],[68.036,7.4],[68.04,7.5]];
const dDense=[[67.99,7.95],[67.992,7.85],[67.994,7.9],[67.998,7.95],[68.001,7.98],[68.004,7.98],[68.007,7.9],[67.997,7.55],[67.999,7.55],[68.002,7.55],[68.004,7.6],[68.002,7.2],[68.005,7.2],[68.007,7.3],[68.019,7.95],[68.021,7.95],[68.024,7.98],[68.026,7.95],[68.029,7.95],[68.02,7.6],[68.023,7.6],[68.03,7.2],[68.03,7.7],[68.033,7.6],[67.82,1.8],[67.824,1.8],[67.828,1.85],[67.848,1.85],[67.852,1.85],[67.856,1.85],[67.86,1.9],[67.875,1.85],[67.893,1.95],[67.934,2.3],[67.936,2.15],[67.936,1.95],[67.945,2.3],[67.948,2.25],[67.951,2.25],[67.954,2.25],[67.957,2.25],[67.945,2.05],[67.948,2.05],[67.95,2.05],[67.953,2.05],[67.956,2.05],[67.96,2],[67.96,1.9],[67.957,1.85],[67.962,1.85],[68.12,2.3],[68.12,2.1],[68.122,2.2],[68.124,2.05],[68.126,1.95]];
const dLead=[[68.034376,8.03]];
// ---------- labels, ticks, genes ----------
const leadLabels=['chr6:17540989','chr9:73772395','chr8:82366151','chr10:68034376'];
const xAxisTitles=['Position on chr6 (Mb)','Position on chr9 (Mb)','Position on chr8 (Mb)','Position on chr10 (Mb)'];
const panelLetters=['a','b','c','d'];
const r2Values=[.2,.2,.2,.2,.2];
const r2Colors=['#000080','#87cefa','#00ff00','#ffa500','#ff0000'];
const aGenes=[{n:'Met\u2192',s:17.4639,e:17.5745,lane:0,at:17.519,ex:[17.4639,17.4879,17.492,17.5135,17.5268,17.5317,17.534,17.5356,17.5405,17.5482,17.5502,17.5535,17.5561,17.5592,17.5633,17.5714,17.5725,17.5735,17.5745]}];
const bGenes=[{n:'\u2190 Unc13c',s:73.479,e:73.936,lane:0,at:73.709,ex:[73.48,73.483,73.52,73.535,73.54,73.555,73.57,73.58,73.63,73.67,73.675,73.695,73.73,73.75,73.81,73.935]},{n:'Wdr72\u2192',s:74.111,e:74.289,lane:0,at:74.201,ex:[74.112,74.14,74.145,74.15,74.155,74.16,74.18,74.215,74.22,74.288]}];
const cGenes=[{n:'Inpp4b\u2192',s:81.714,e:82.128,lane:0,at:81.924,ex:[81.72,81.74,81.77,81.87,81.9,81.92,81.95,81.97,81.99,82.01,82.03,82.05,82.07,82.12]},{n:'\u2190 Il15',s:82.328,e:82.406,lane:0,at:82.367,ex:[82.33,82.335,82.34,82.36,82.38,82.4]},{n:'\u2190 Zfp330',s:82.768,e:82.775,lane:0,at:82.768,ex:[82.77,82.775]},{n:'Tbc1d9\u2192',s:83.163,e:83.28,lane:0,at:83.227,ex:[83.17,83.2,83.23,83.25,83.26,83.27]},{n:'Rnf150\u2192',s:82.862,e:83.096,lane:1,at:82.983,ex:[82.865,82.98,82.99,83.01,83.06,83.094]},{n:'Ucp1\u2192',s:83.293,e:83.303,lane:1,at:83.3,ex:[83.295,83.302]},{n:'\u2190 Elmod2',s:83.31,e:83.34,lane:2,at:83.28,ex:[83.315,83.325,83.335]},{n:'4930434I20Rik\u2192',s:83.352,e:83.375,lane:3,at:83.214,ex:[83.355,83.365,83.372]}];
const dGenes=[{n:'\u2190 Zfp365',s:67.886,e:67.914,lane:0,at:67.899,ex:[67.887,67.889,67.898,67.91,67.913]},{n:'Rtkn2\u2192',s:67.98,e:68.046,lane:0,at:68.013,ex:[67.98,67.985,67.993,68.002,68.012,68.018,68.026,68.04,68.044]},{n:'\u2190 Arid5b',s:68.097,e:68.2,lane:0,at:68.186,ex:[68.097,68.099,68.102,68.112,68.12,68.124,68.13,68.185]}];

// ---------- layout ----------
const FONT='"Liberation Sans",Arial,sans-serif', GREY='#858585', AX='#b0b0b0';
const panels=[
 {gray:aGray,navy:aNavy,blue:aBlue,green:aGreen,orange:aOrange,red:aRed,dense:aDense,lead:aLead,genes:aGenes,
  x0:32,x1:330,xMin:17.4497,xMax:17.6325,yTop:43.3,yBot:193,yMax:15,yInt:5,tX0:114,tX1:277,tMin:17.5,tMax:17.6,tInt:.05,tDec:2,axY:221,
  trackTop:212,laneH:12,lanes:1,legX:302,legW:6,legT:20,legB:65.5,yNameX:11,yNameY:104,xNameX:179.5,xNameY:241.5,letX:24,letY:15},
 {gray:bGray,navy:bNavy,blue:bBlue,red:bRed,dense:bDense,lead:bLead,genes:bGenes,
  x0:496,x1:782,xMin:73.2023,xMax:74.4135,yTop:22.7,yBot:194,yMax:6,yInt:1,tX0:542.7,tX1:731.7,tMin:73.4,tMax:74.2,tInt:.2,tDec:1,axY:220.7,
  trackTop:211.7,laneH:12,lanes:1,legX:501.7,legW:6,legT:32.7,legB:76.7,yNameX:474.5,yNameY:108,xNameX:637.5,xNameY:240.5,letX:457,letY:13},
 {gray:cGray.concat(cGrayBand),navy:cNavy,blue:cBlue,green:cGreen,orange:cOrange,red:cRed,dense:cDense.concat(cDenseMore),lead:cLead,genes:cGenes,
  x0:38.7,x1:335,xMin:81.195,xMax:83.384,yTop:342,yBot:493.7,yMax:10,yInt:2,tX0:80,tX1:283,tMin:81.5,tMax:83,tInt:.5,tDec:1,axY:555.7,
  trackTop:510.3,laneH:12,lanes:4,legX:309.3,legW:6,legT:353.3,legB:399,yNameX:16,yNameY:420,xNameX:186,xNameY:575.5,letX:27,letY:300},
 {gray:dGray.concat(dGrayBand),navy:dNavy,blue:dBlue,green:dGreen,orange:dOrange,red:dRed,dense:dDense,lead:dLead,genes:dGenes,
  x0:492.7,x1:789,xMin:67.8003,xMax:68.2016,yTop:349,yBot:511,yMax:8,yInt:2,tX0:566.3,tX1:714,tMin:67.9,tMax:68.1,tInt:.1,tDec:1,axY:539.3,
  trackTop:530,laneH:12,lanes:1,legX:499.3,legW:6,legT:359,legB:404.7,yNameX:471,yNameY:422,xNameX:641,xNameY:559.5,letX:459,letY:292}
];
const grid=[],xAxis=[],yAxis=[],series=[],graphic=[];
const axisCommon={axisLine:{show:true,lineStyle:{color:AX,width:1}},axisTick:{show:true,length:3.5,lineStyle:{color:AX}},
  axisLabel:{color:GREY,fontSize:6.4,fontFamily:FONT,margin:5},splitLine:{show:false}};
function pts(kind,data,color,z,size,border,bw){
 return {type:'scatter',xAxisIndex:kind,yAxisIndex:kind,data,symbol:'circle',symbolSize:size,clip:false,silent:true,z,
  itemStyle:{color,borderColor:border,borderWidth:bw},animation:false};
}
panels.forEach((p,i)=>{
 // data grid
 const g=grid.length; grid.push({left:p.x0,top:p.yTop,width:p.x1-p.x0,height:p.yBot-p.yTop});
 xAxis.push({gridIndex:g,type:'value',min:p.xMin,max:p.xMax,show:false});
 yAxis.push({gridIndex:g,type:'value',min:0,max:p.yMax,interval:p.yInt,...axisCommon,axisLine:{show:true,lineStyle:{color:i>1?'#c4c4c4':AX,width:i>1?1.6:1}}});
 series.push(pts(g,p.gray,'#e2e2e2',2,5.6,'#cfcfcf',.5));
 if(p.navy)series.push(pts(g,p.navy,'#000080',3,5,'#1c1c50',.5));
 if(p.blue)series.push(pts(g,p.blue,'#87cefa',4,5,'#505a60',.6));
 if(p.green)series.push(pts(g,p.green,'#00ff00',5,5,'#2c8a2c',.5));
 if(p.orange)series.push(pts(g,p.orange,'#ffa500',6,5,'#7a6030',.6));
 if(p.red)series.push(pts(g,p.red,'#ff0000',7,5,'#a02020',.4));
 series.push(pts(g,p.dense,'#484848',8,3.8,'#444',.3));
 const lead=pts(g,p.lead,'#7d26cd',9,4,'#5a2a90',.3);
 lead.label={show:true,position:'top',distance:3,formatter:leadLabels[i],color:'#333',fontSize:6.2,fontFamily:FONT};
 series.push(lead);
 // x tick axis
 const t=grid.length; grid.push({left:p.tX0,top:p.axY-1,width:p.tX1-p.tX0,height:1});
 xAxis.push({gridIndex:t,type:'value',min:p.tMin,max:p.tMax,interval:p.tInt,...axisCommon,
   axisLabel:{...axisCommon.axisLabel,margin:6,hideOverlap:false,formatter:v=>String(+v.toFixed(p.tDec))}});
 yAxis.push({gridIndex:t,type:'value',show:false});
 // gene tracks
 const k=grid.length; grid.push({left:p.x0,top:p.trackTop,width:p.x1-p.x0,height:p.laneH*p.lanes});
 xAxis.push({gridIndex:k,type:'value',min:p.xMin,max:p.xMax,show:false});
 yAxis.push({gridIndex:k,type:'value',min:-.5,max:p.lanes-.5,inverse:true,show:false});
 p.genes.forEach(gn=>{
  series.push({type:'line',xAxisIndex:k,yAxisIndex:k,data:[[gn.s,gn.lane],[gn.e,gn.lane]],showSymbol:false,clip:false,z:3,silent:true,
    lineStyle:{color:'#5050c0',width:.8},animation:false});
  series.push({type:'scatter',xAxisIndex:k,yAxisIndex:k,data:gn.ex.map(x=>[x,gn.lane]),symbol:'rect',symbolSize:[1.4,2.6],clip:false,z:4,silent:true,
    itemStyle:{color:'#000080'},animation:false});
  series.push({type:'scatter',xAxisIndex:k,yAxisIndex:k,data:[[gn.at,gn.lane]],symbolSize:0,clip:false,z:5,silent:true,animation:false,
    label:{show:true,position:'top',distance:1.5,formatter:gn.n,fontStyle:'italic',color:'#333',fontSize:6.2,fontFamily:FONT}});
 });
 // r2 legend
 const l=grid.length; grid.push({left:p.legX,top:p.legT,width:p.legW,height:p.legB-p.legT});
 xAxis.push({gridIndex:l,type:'category',data:['r2'],show:false});
 yAxis.push({gridIndex:l,type:'value',position:'right',min:0,max:1,interval:.2,axisLine:{show:false},
   axisTick:{show:true,length:2,lineStyle:{color:AX},customValues:[.2,.4,.6,.8]},
   axisLabel:{color:GREY,fontSize:5.8,fontFamily:FONT,margin:4,customValues:[.2,.4,.6,.8]},splitLine:{show:false}});
 r2Values.forEach((v,j)=>series.push({type:'bar',xAxisIndex:l,yAxisIndex:l,stack:'r2'+i,data:[v],barWidth:'100%',silent:true,z:3,animation:false,
   itemStyle:{color:r2Colors[j]}}));
 // free text
 const txt=(x,y,text,o={})=>graphic.push({type:'text',x,y,rotation:o.rot||0,silent:true,z:20,
   style:{text,fill:o.fill||GREY,font:o.font||('6.4px '+FONT),align:'center',verticalAlign:'middle',rich:o.rich}});
 txt(p.yNameX,p.yNameY,'{a|- log}{s|10}{a|(p  value)}',{rot:Math.PI/2,rich:{a:{fill:GREY,font:'6.6px '+FONT},s:{fill:GREY,font:'4.6px '+FONT,verticalAlign:'bottom',padding:[3,0,0,0]}}});
 txt(p.xNameX,p.xNameY,xAxisTitles[i]);
 txt(p.letX,p.letY,panelLetters[i],{fill:'#000',font:'21px "Open Sans",'+FONT});
 txt(p.legX+p.legW+3,p.legT-5,'r\u00b2',{rot:Math.PI/2.6,fill:'#666',font:'italic 6.5px '+FONT});
});
const chart=echarts.init(document.getElementById('c'),null,{renderer:'canvas',width:800,height:584});
chart.setOption({animation:false,backgroundColor:'#fff',grid,xAxis,yAxis,series,graphic});
</script></body></html>
